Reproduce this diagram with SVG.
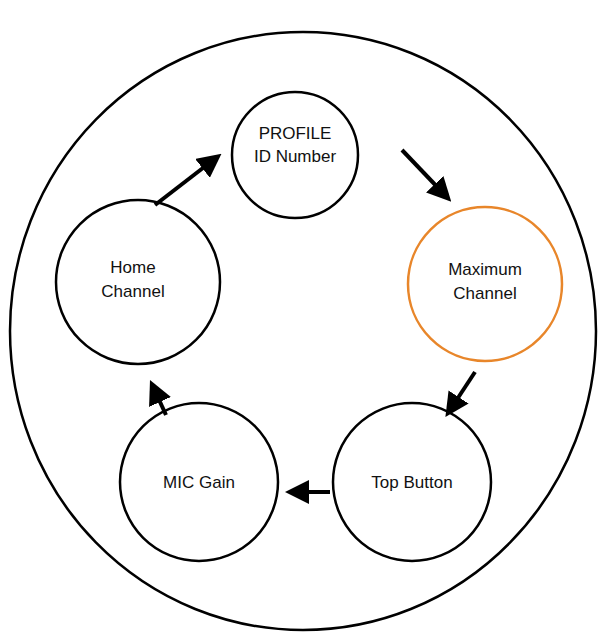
<svg xmlns="http://www.w3.org/2000/svg" width="601" height="634" viewBox="0 0 601 634">
<style>
.n{fill:#fff;stroke:#000;stroke-width:2.5}
.t{font-family:"Liberation Sans",Arial,sans-serif;font-size:17px;text-anchor:middle;fill:#111}
.c{stroke:#000;stroke-width:4;fill:none;marker-end:url(#a)}
</style>
<defs><marker id="a" markerWidth="6" markerHeight="6" refX="3" refY="3" orient="auto"><path d="M0,0L6,3L0,6z" fill="#000"/></marker></defs>
<rect width="601" height="634" fill="#fff"/>
<ellipse cx="303" cy="331" rx="293" ry="299" class="n"/>
<g id="profile"><circle cx="295" cy="155" r="63" class="n"/><text class="t" x="295" y="139">PROFILE</text><text class="t" x="295" y="162">ID Number</text></g>
<g id="maximum"><circle cx="485" cy="284" r="77" class="n" style="stroke:#e8862a"/><text class="t" x="485" y="275">Maximum</text><text class="t" x="485" y="299">Channel</text></g>
<g id="home"><circle cx="138" cy="282" r="82" class="n"/><text class="t" x="133" y="273">Home</text><text class="t" x="133" y="297">Channel</text></g>
<g id="top"><circle cx="412" cy="482" r="79" class="n"/><text class="t" x="412" y="488">Top Button</text></g>
<g id="mic"><circle cx="199" cy="482" r="79" class="n"/><text class="t" x="199" y="488">MIC Gain</text></g>
<g id="connectors">
<line class="c" x1="402" y1="150" x2="443" y2="193"/>
<line class="c" x1="475" y1="372" x2="452" y2="407"/>
<line class="c" x1="330" y1="492" x2="297" y2="492"/>
<line class="c" x1="166" y1="415" x2="155" y2="391"/>
<line class="c" x1="155" y1="205" x2="212" y2="161"/>
</g>
</svg>
